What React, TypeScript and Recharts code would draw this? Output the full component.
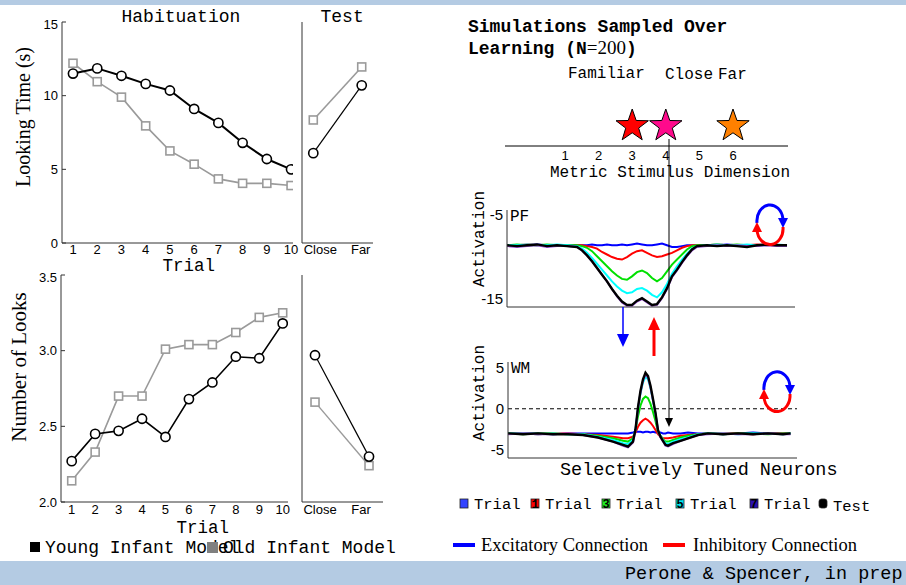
import React from "react";
import { LineChart, Line, XAxis, YAxis, ScatterChart, Scatter, ReferenceLine } from "recharts";

// ---- behavioural data (left panels) ----
const trials = [1, 2, 3, 4, 5, 6, 7, 8, 9, 10];
const youngLooking = [11.5, 11.85, 11.35, 10.8, 10.35, 9.1, 8.15, 6.8, 5.7, 5.0];
const oldLooking = [12.2, 10.95, 9.9, 7.95, 6.25, 5.35, 4.35, 4.05, 4.05, 3.9];
const testLabels = ["Close", "Far"];
const youngLookingTest = [6.1, 10.7];
const oldLookingTest = [8.35, 11.95];
const youngLooks = [2.27, 2.45, 2.47, 2.55, 2.43, 2.68, 2.79, 2.96, 2.95, 3.18];
const oldLooks = [2.14, 2.33, 2.7, 2.7, 3.01, 3.04, 3.04, 3.12, 3.22, 3.25];
const youngLooksTest = [2.97, 2.3];
const oldLooksTest = [2.66, 2.24];

// ---- stimulus dimension ----
const stimulusTicks = [1, 2, 3, 4, 5, 6];
const stimulusPos = [3, 4, 6]; // familiar, close, far
const starLevel = [0.5, 0.5, 0.5];

// ---- perceptual field (PF) ----
const pfNeurons = [0, 2, 4, 6, 8, 10, 12,
  14, 15, 16, 17, 18, 19, 20, 21, 22, 23, 24, 25, 26, 27, 28, 29, 30, 31, 32, 33, 34, 35, 36, 37, 38,
  40, 42, 44, 46, 48, 50, 52, 54, 56];
const pfTrial0 = [-8.6, -8.6, -8.6, -8.5, -8.6, -8.6, -8.6,
  -8.6, -8.6, -8.6, -8.5, -8.6, -8.6, -8.5, -8.6, -8.6, -8.5, -8.6, -8.5, -8.4, -8.5, -8.6, -8.6, -8.5, -8.4, -8.6, -8.8, -8.8, -8.7, -8.6, -8.6, -8.6,
  -8.6, -8.6, -8.5, -8.6, -8.6, -8.6, -8.5, -8.6, -8.6];
const pfTrial1 = [-8.6, -8.6, -8.5, -8.6, -8.6, -8.6, -8.7,
  -8.6, -8.6, -8.7, -8.8, -9.0, -9.4, -9.7, -10.0, -10.2, -10.3, -10.0, -9.6, -9.3, -9.2, -9.5, -9.8, -10.0, -9.9, -9.7, -9.5, -9.2, -8.9, -8.7, -8.6, -8.6,
  -8.6, -8.5, -8.6, -8.6, -8.6, -8.5, -8.6, -8.6, -8.6];
const pfTrial3 = [-8.6, -8.5, -8.6, -8.6, -8.5, -8.6, -8.6,
  -8.6, -8.7, -8.9, -9.3, -9.9, -10.5, -11.1, -11.7, -12.2, -12.6, -12.7, -12.3, -11.8, -11.6, -11.9, -12.5, -12.9, -12.5, -11.7, -10.9, -10.3, -9.7, -9.1, -8.7, -8.6,
  -8.6, -8.5, -8.6, -8.5, -8.6, -8.6, -8.5, -8.6, -8.6];
const pfTrial5 = [-8.6, -8.6, -8.5, -8.6, -8.6, -8.5, -8.6,
  -8.7, -9.0, -9.5, -10.1, -10.8, -11.5, -12.2, -12.9, -13.5, -14.0, -14.3, -14.2, -13.8, -13.7, -14.0, -14.5, -14.8, -14.2, -13.2, -12.0, -11.1, -10.3, -9.6, -9.0, -8.7,
  -8.6, -8.5, -8.6, -8.6, -8.5, -8.6, -8.6, -8.5, -8.6];
const pfTrial7 = [-8.7, -8.8, -8.7, -8.6, -8.8, -8.7, -8.7,
  -8.8, -9.2, -9.8, -10.5, -11.3, -12.1, -12.9, -13.8, -14.7, -15.4, -15.8, -15.8, -15.3, -15.0, -15.4, -15.8, -15.7, -14.9, -13.8, -12.4, -11.6, -10.7, -9.9, -9.2, -8.8,
  -8.7, -8.6, -8.7, -8.6, -8.7, -8.7, -8.6, -8.7, -8.7];
const pfTest = [-8.6, -8.7, -8.6, -8.5, -8.7, -8.6, -8.7,
  -8.8, -9.2, -9.8, -10.5, -11.3, -12.1, -12.9, -13.8, -14.6, -15.3, -15.7, -15.7, -15.2, -14.9, -15.3, -15.7, -15.6, -14.8, -13.7, -12.3, -11.5, -10.6, -9.8, -9.1, -8.7,
  -8.6, -8.7, -8.6, -8.7, -8.8, -8.6, -8.5, -8.6, -8.6];

// ---- working memory (WM) ----
const wmNeurons = [0, 3, 6, 9, 12, 15, 18, 21, 23, 24, 25, 25.5, 26, 26.5, 27, 27.5, 28, 28.5, 29, 29.5,
  30, 30.5, 31, 31.5, 32, 33, 34.5, 36, 38, 40, 43, 46, 49, 52, 55, 56.5];
const wmTrial0 = [-3.0, -3.0, -3.0, -3.1, -3.0, -3.0, -3.0, -3.0, -3.0, -3.0, -2.9, -2.8, -2.8, -2.8, -2.9, -2.8, -2.8, -2.9, -2.8, -2.9,
  -2.9, -2.9, -3.0, -3.0, -2.9, -3.0, -3.0, -2.9, -3.0, -3.0, -3.1, -3.0, -2.9, -3.0, -3.0, -3.0];
const wmTrial1 = [-3.0, -3.0, -3.1, -3.0, -3.0, -3.1, -3.2, -3.4, -3.6, -3.6, -3.4, -2.9, -2.2, -1.7, -1.4, -1.2, -1.4, -1.7, -2.1, -2.6,
  -3.1, -3.4, -3.6, -3.6, -3.6, -3.5, -3.3, -3.2, -3.1, -3.0, -3.0, -3.0, -3.1, -3.0, -3.0, -3.0];
const wmTrial3 = [-3.0, -3.1, -3.0, -3.0, -3.1, -3.1, -3.3, -3.6, -3.9, -4.0, -3.6, -2.6, -0.9, 0.4, 1.2, 1.5, 1.3, 0.6, -0.4, -1.5,
  -2.8, -3.3, -3.7, -4.0, -4.0, -3.8, -3.5, -3.3, -3.1, -3.0, -3.1, -3.0, -3.0, -3.1, -3.0, -3.0];
const wmTrial5 = [-3.0, -3.0, -3.1, -3.0, -3.1, -3.1, -3.4, -3.8, -4.2, -4.3, -3.8, -2.5, 0.0, 1.9, 3.2, 3.9, 3.6, 2.5, 1.0, -0.6,
  -2.6, -3.3, -3.8, -4.2, -4.3, -4.0, -3.7, -3.5, -3.1, -3.0, -3.0, -3.1, -3.0, -3.0, -3.1, -3.0];
const wmTrial7 = [-3.1, -3.0, -3.1, -3.1, -3.0, -3.2, -3.5, -4.0, -4.5, -4.7, -4.1, -2.6, 0.0, 2.0, 3.4, 4.2, 3.8, 2.6, 1.0, -0.6,
  -2.7, -3.5, -4.0, -4.5, -4.6, -4.3, -3.9, -3.6, -3.2, -3.1, -3.0, -3.1, -3.1, -3.0, -3.1, -3.1];
const wmTest = [-3.0, -3.1, -3.0, -3.1, -3.1, -3.2, -3.5, -4.0, -4.4, -4.6, -4.0, -2.5, 0.2, 2.2, 3.6, 4.4, 4.0, 2.8, 1.2, -0.5,
  -2.6, -3.4, -3.9, -4.4, -4.5, -4.2, -3.9, -3.6, -3.2, -3.0, -3.1, -3.0, -3.1, -3.0, -3.1, -3.0];

// ---- styling ----
const mono = "'Liberation Mono', 'Courier New', monospace";
const serif = "'Liberation Serif', 'Times New Roman', serif";
const sans = "'Liberation Sans', Arial, sans-serif";
const GRAY = "#9a9a9a";
const AXIS = "#333";
const BAR = "#b4cbe3";
const seriesColors = { t0: "#0000ff", t1: "#ff0000", t3: "#00e000", t5: "#00ffff", t7: "#9b4fd4", test: "#000" };
const starColors = ["#ff0000", "#ff0a8c", "#ff8000"];

const lookHab = trials.map((t, i) => ({ t, young: youngLooking[i], old: oldLooking[i] }));
const lookTest = testLabels.map((_, i) => ({ t: i, young: youngLookingTest[i], old: oldLookingTest[i] }));
const numHab = trials.map((t, i) => ({ t, young: youngLooks[i], old: oldLooks[i] }));
const numTest = testLabels.map((_, i) => ({ t: i, young: youngLooksTest[i], old: oldLooksTest[i] }));
const starData = stimulusPos.map((x, i) => ({ x, y: starLevel[i], i }));
const pfData = pfNeurons.map((n, i) => ({
  n, t0: pfTrial0[i], t1: pfTrial1[i], t3: pfTrial3[i], t5: pfTrial5[i], t7: pfTrial7[i], test: pfTest[i],
}));
const wmData = wmNeurons.map((n, i) => ({
  n, t0: wmTrial0[i], t1: wmTrial1[i], t3: wmTrial3[i], t5: wmTrial5[i], t7: wmTrial7[i], test: wmTest[i],
}));

type Rect = { x0: number; y0: number; x1: number; y1: number };
const PAD = 6;

function frame(r: Rect, yw: number, xh: number) {
  return {
    style: { position: "absolute" as const, left: r.x0 - yw, top: r.y0 - PAD },
    width: r.x1 - r.x0 + yw + PAD,
    height: r.y1 - r.y0 + PAD + xh,
    margin: { top: PAD, right: PAD, left: 0, bottom: 0 },
  };
}

const squareDot = (color: string) => (p: any) => (
  <rect key={`sq-${p.index}`} x={p.cx - 4} y={p.cy - 4} width={8} height={8} fill="#fff" stroke={color} strokeWidth={1.6} />
);
const circleDot = { r: 4.6, fill: "#fff", stroke: "#000", strokeWidth: 1.6 };

const testTick = (shift: number[]) => (p: any) => (
  <text
    key={`tt-${p.index}`}
    x={p.x + shift[p.index]}
    y={p.y}
    dy="0.71em"
    textAnchor="middle"
    fontSize={13}
    fontFamily={sans}
    fill="#000"
  >
    {testLabels[p.payload.value]}
  </text>
);

const tickStyle = { fill: "#000", fontSize: 13, fontFamily: sans };
const fieldTick = { fill: "#000", fontSize: 15, fontFamily: sans };

function Star(p: any) {
  const R = 17;
  const r = 6.8;
  const pts: string[] = [];
  for (let k = 0; k < 10; k++) {
    const a = -Math.PI / 2 + (k * Math.PI) / 5;
    const rad = k % 2 === 0 ? R : r;
    pts.push(`${p.cx + rad * Math.cos(a)},${p.cy + rad * Math.sin(a)}`);
  }
  return <polygon points={pts.join(" ")} fill={starColors[p.payload.i]} stroke="#000" strokeWidth={1} />;
}

function BehaviourPanels() {
  const a = frame({ x0: 62, y0: 22, x1: 293, y1: 243 }, 40, 24);
  const b = frame({ x0: 302, y0: 22, x1: 373, y1: 243 }, 10, 24);
  const c = frame({ x0: 61, y0: 275, x1: 288, y1: 502 }, 40, 24);
  const d = frame({ x0: 302, y0: 275, x1: 383, y1: 502 }, 10, 24);
  return (
    <>
      <div style={a.style}>
        <LineChart width={a.width} height={a.height} margin={a.margin} data={lookHab}>
          <XAxis dataKey="t" type="number" domain={[0.546, 10.08]} allowDataOverflow ticks={trials} interval={0}
            height={24} tickLine={false} tickSize={0} tickMargin={2} stroke={AXIS} tick={tickStyle} />
          <YAxis type="number" domain={[0, 15]} allowDataOverflow ticks={[0, 5, 10, 15]} width={40}
            tickSize={-4} tickMargin={8} stroke={AXIS} tick={tickStyle} />
          <Line dataKey="old" stroke={GRAY} strokeWidth={1.6} dot={squareDot(GRAY)} isAnimationActive={false} />
          <Line dataKey="young" stroke="#000" strokeWidth={2} dot={circleDot} isAnimationActive={false} />
        </LineChart>
      </div>
      <div style={b.style}>
        <LineChart width={b.width} height={b.height} margin={b.margin} data={lookTest}>
          <XAxis dataKey="t" type="number" domain={[-0.233, 1.233]} allowDataOverflow ticks={[0, 1]} interval={0}
            height={24} tickLine={false} tickSize={0} tickMargin={2} stroke={AXIS} tick={testTick([7, -1])} />
          <YAxis type="number" domain={[0, 15]} allowDataOverflow ticks={[0, 5, 10, 15]} width={10}
            tickSize={-4} tick={false} stroke={AXIS} />
          <Line dataKey="old" stroke={GRAY} strokeWidth={1.6} dot={squareDot(GRAY)} isAnimationActive={false} />
          <Line dataKey="young" stroke="#000" strokeWidth={1.2} dot={circleDot} isAnimationActive={false} />
        </LineChart>
      </div>
      <div style={c.style}>
        <LineChart width={c.width} height={c.height} margin={c.margin} data={numHab}>
          <XAxis dataKey="t" type="number" domain={[0.5435, 10.226]} allowDataOverflow ticks={trials} interval={0}
            height={24} tickLine={false} tickSize={0} tickMargin={3} stroke={AXIS} tick={tickStyle} />
          <YAxis type="number" domain={[2, 3.5]} allowDataOverflow ticks={[2, 2.5, 3, 3.5]} width={40}
            tickFormatter={(v: number) => v.toFixed(1)} tickSize={-4} tickMargin={8} stroke={AXIS} tick={tickStyle} />
          <Line dataKey="old" stroke={GRAY} strokeWidth={1.6} dot={squareDot(GRAY)} isAnimationActive={false} />
          <Line dataKey="young" stroke="#000" strokeWidth={1.6} dot={circleDot} isAnimationActive={false} />
        </LineChart>
      </div>
      <div style={d.style}>
        <LineChart width={d.width} height={d.height} margin={d.margin} data={numTest}>
          <XAxis dataKey="t" type="number" domain={[-0.241, 1.259]} allowDataOverflow ticks={[0, 1]} interval={0}
            height={24} tickLine={false} tickSize={0} tickMargin={3} stroke={AXIS} tick={testTick([5, -8])} />
          <YAxis type="number" domain={[2, 3.5]} allowDataOverflow ticks={[2, 2.5, 3, 3.5]} width={10}
            tickSize={-4} tick={false} stroke={AXIS} />
          <Line dataKey="old" stroke={GRAY} strokeWidth={1.4} dot={squareDot(GRAY)} isAnimationActive={false} />
          <Line dataKey="young" stroke="#000" strokeWidth={1.2} dot={circleDot} isAnimationActive={false} />
        </LineChart>
      </div>
    </>
  );
}

const fieldKeys = ["t0", "t1", "t3", "t5", "t7", "test"] as const;

function FieldPanels() {
  const s = frame({ x0: 505, y0: 106, x1: 788, y1: 146 }, 0, 30);
  const pf = frame({ x0: 507, y0: 210, x1: 795, y1: 307 }, 40, 2);
  const wm = frame({ x0: 508, y0: 362, x1: 797, y1: 458 }, 40, 2);
  return (
    <>
      <div style={s.style}>
        <ScatterChart width={s.width} height={s.height} margin={s.margin}>
          <XAxis dataKey="x" type="number" domain={[-0.786, 7.637]} allowDataOverflow ticks={stimulusTicks} interval={0}
            height={30} tickLine={false} tickSize={0} tickMargin={5} stroke="#000" tick={tickStyle} />
          <YAxis dataKey="y" type="number" domain={[0, 1]} hide />
          <Scatter data={starData} shape={Star} isAnimationActive={false} />
        </ScatterChart>
      </div>
      <div style={pf.style}>
        <LineChart width={pf.width} height={pf.height} margin={pf.margin} data={pfData}>
          <XAxis dataKey="n" type="number" domain={[0, 57.6]} allowDataOverflow tick={false} tickLine={false}
            height={2} stroke={AXIS} />
          <YAxis type="number" domain={[-15.95, -4.4]} allowDataOverflow ticks={[-15, -5]} width={40}
            tickLine={false} tickSize={0} tickMargin={4} stroke={AXIS} tick={fieldTick} />
          {fieldKeys.map((k) => (
            <Line key={k} dataKey={k} stroke={seriesColors[k]} strokeWidth={k === "test" ? 2.4 : 2}
              dot={false} isAnimationActive={false} />
          ))}
        </LineChart>
      </div>
      <div style={wm.style}>
        <LineChart width={wm.width} height={wm.height} margin={wm.margin} data={wmData}>
          <XAxis dataKey="n" type="number" domain={[0, 57.8]} allowDataOverflow tick={false} tickLine={false}
            height={2} stroke={AXIS} />
          <YAxis type="number" domain={[-6, 5.7]} allowDataOverflow ticks={[-5, 0, 5]} width={40}
            tickLine={false} tickSize={0} tickMargin={4} stroke={AXIS} tick={fieldTick} />
          <ReferenceLine y={0} stroke="#000" strokeDasharray="4 3" strokeWidth={1} />
          {fieldKeys.map((k) => (
            <Line key={k} dataKey={k} stroke={seriesColors[k]} strokeWidth={k === "test" ? 2.4 : 2}
              dot={false} isAnimationActive={false} />
          ))}
        </LineChart>
      </div>
    </>
  );
}

function CycleIcon({ cx, cy }: { cx: number; cy: number }) {
  return (
    <g fill="none" strokeWidth={3}>
      <path d={`M ${cx - 13} ${cy + 1} A 13 16 0 0 1 ${cx + 13} ${cy - 3}`} stroke="#0000ff" />
      <polygon points={`${cx + 8},${cy - 4} ${cx + 18},${cy - 4} ${cx + 13},${cy + 6}`} fill="#0000ff" />
      <path d={`M ${cx + 13} ${cy + 5} A 13 16 0 0 1 ${cx - 13} ${cy + 8}`} stroke="#ff0000" />
      <polygon points={`${cx - 18},${cy + 10} ${cx - 8},${cy + 10} ${cx - 13},${cy}`} fill="#ff0000" />
    </g>
  );
}

const trialLegend = [
  { key: "t0", num: "", color: "#3344ff", x: 460, label: "Trial" },
  { key: "t1", num: "1", color: "#ff0000", x: 531, label: "Trial" },
  { key: "t3", num: "3", color: "#22ee22", x: 602, label: "Trial" },
  { key: "t5", num: "5", color: "#00e8f0", x: 676, label: "Trial" },
  { key: "t7", num: "7", color: "#2a10b0", x: 750, label: "Trial" },
  { key: "test", num: "", color: "#000", x: 819, label: "Test" },
];

function Overlay() {
  return (
    <svg width={906} height={585} style={{ position: "absolute", left: 0, top: 0, pointerEvents: "none" }}>
      {/* left panel text */}
      <text x={121.5} y={22} fontFamily={mono} fontSize={18}>Habituation</text>
      <text x={320.5} y={22} fontFamily={mono} fontSize={18}>Test</text>
      <text x={162.5} y={271} fontFamily={mono} fontSize={17.5}>Trial</text>
      <text x={176.5} y={533} fontFamily={mono} fontSize={17.5}>Trial</text>
      <text transform="translate(30,117) rotate(-90)" textAnchor="middle" fontFamily={serif} fontSize={20}>Looking Time (s)</text>
      <text transform="translate(26,367) rotate(-90)" textAnchor="middle" fontFamily={serif} fontSize={21}>Number of Looks</text>

      {/* left legend */}
      <rect x={30} y={542} width={10} height={10} fill="#000" />
      <text x={45} y={553} fontFamily={mono} fontSize={18}>Young Infant Model</text>
      <text x={223} y={553} fontFamily={mono} fontSize={18}>Old Infant Model</text>
      <rect x={207} y={542} width={11} height={11} fill="#808080" />

      {/* right title + stimulus labels */}
      <text x={468} y={31.5} fontFamily={mono} fontSize={18} fontWeight="bold">Simulations Sampled Over</text>
      <text x={468} y={54} fontFamily={mono} fontSize={18} fontWeight="bold">
        Learning (N<tspan fontFamily={serif} fontWeight="normal" fontSize={19}>=200</tspan>)
      </text>
      <text x={568} y={78} fontFamily={mono} fontSize={16}>Familiar</text>
      <text x={665} y={79} fontFamily={mono} fontSize={16}>Close</text>
      <text x={718} y={79} fontFamily={mono} fontSize={16}>Far</text>
      <text x={550} y={177} fontFamily={mono} fontSize={16}>Metric Stimulus Dimension</text>

      {/* field labels */}
      <text transform="translate(484,239) rotate(-90)" textAnchor="middle" fontFamily={mono} fontSize={16}>Activation</text>
      <text transform="translate(484,393) rotate(-90)" textAnchor="middle" fontFamily={mono} fontSize={16}>Activation</text>
      <text x={510} y={221} fontFamily={mono} fontSize={16}>PF</text>
      <text x={511} y={373} fontFamily={mono} fontSize={16}>WM</text>
      <text x={560} y={475} fontFamily={mono} fontSize={18.5}>Selectively Tuned Neurons</text>

      {/* coupling arrows */}
      <line x1={669} y1={139} x2={669} y2={419} stroke="#000" strokeWidth={1} />
      <polygon points="665,418 673,418 669,427" fill="#000" />
      <line x1={623} y1={307} x2={623} y2={336} stroke="#0000ff" strokeWidth={1.5} />
      <polygon points="617,334 629,334 623,347" fill="#0000ff" />
      <line x1={654} y1={356} x2={654} y2={328} stroke="#ff0000" strokeWidth={3} />
      <polygon points="648,330 660,330 654,317" fill="#ff0000" />
      <CycleIcon cx={770} cy={222} />
      <CycleIcon cx={777} cy={389} />

      {/* trial legend */}
      {trialLegend.map((t) => (
        <g key={t.key}>
          <rect x={t.x} y={499} width={8} height={9} rx={t.key === "test" ? 2.5 : 0} fill={t.color} stroke="#222" strokeWidth={0.8} />
          {t.num && (
            <text x={t.x + 4} y={508} textAnchor="middle" fontFamily={mono} fontSize={12} fontWeight="bold" fill="#000">{t.num}</text>
          )}
          <text x={t.x + 14} y={t.key === "test" ? 511 : 509} fontFamily={mono} fontSize={15.5}>{t.label}</text>
        </g>
      ))}

      {/* connection legend */}
      <line x1={453} y1={545} x2={475} y2={545} stroke="#0000ff" strokeWidth={4} />
      <text x={481} y={551} fontFamily={serif} fontSize={18.5}>Excitatory Connection</text>
      <line x1={663} y1={545} x2={685} y2={545} stroke="#ff0000" strokeWidth={4} />
      <text x={693} y={551} fontFamily={serif} fontSize={18.5}>Inhibitory Connection</text>

      {/* footer */}
      <text x={625} y={579} fontFamily={mono} fontSize={18.5}>Perone &amp; Spencer, in prep</text>
    </svg>
  );
}

export default function App() {
  return (
    <div style={{ position: "absolute", left: 0, top: 0, width: 906, height: 585, background: "#fff", overflow: "hidden" }}>
      <div style={{ position: "absolute", left: 0, top: 0, width: 906, height: 5, background: BAR }} />
      <div style={{ position: "absolute", left: 0, top: 561, width: 906, height: 24, background: BAR }} />
      <BehaviourPanels />
      <FieldPanels />
      <Overlay />
    </div>
  );
}
